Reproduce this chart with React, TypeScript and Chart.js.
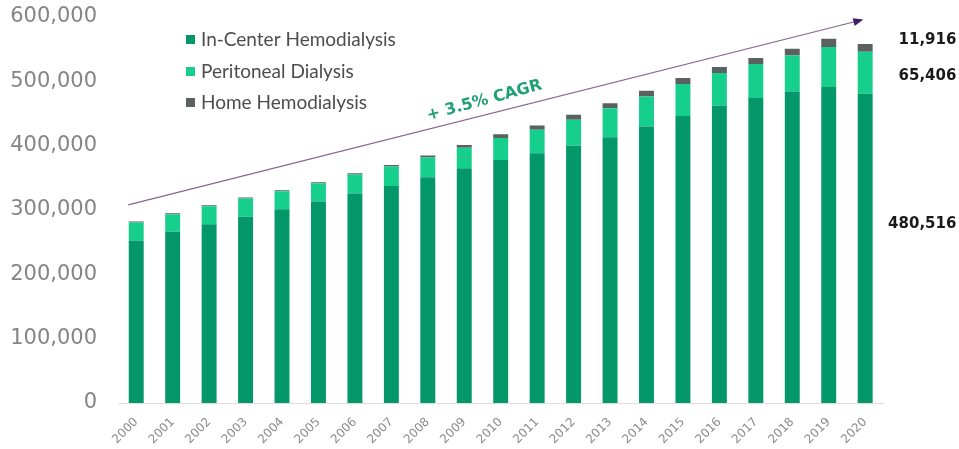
import React, { useEffect, useRef } from "react";
import { Chart, registerables } from "chart.js";

Chart.register(...registerables);

// ---- Data ----
const YEARS = [
  "2000", "2001", "2002", "2003", "2004", "2005", "2006", "2007", "2008", "2009", "2010",
  "2011", "2012", "2013", "2014", "2015", "2016", "2017", "2018", "2019", "2020",
];
const IN_CENTER = [
  252400, 266000, 278000, 289700, 301200, 313100, 325500, 337500, 351000, 365000, 377900,
  388300, 399700, 413200, 429700, 446300, 461900, 473900, 484100, 491000, 480516,
];
const PERITONEAL = [
  28100, 27500, 28000, 28100, 28100, 28300, 29500, 30100, 30600, 31700, 34000,
  36300, 40400, 45100, 46700, 49400, 51200, 52900, 56000, 62200, 65406,
];
const HOME = [
  1500, 1500, 1500, 1500, 1500, 1800, 2200, 2500, 3000, 4500, 6000,
  6700, 7800, 7800, 8800, 9300, 9000, 9300, 10400, 12900, 11916,
];
const SERIES_LABELS = ["In-Center Hemodialysis", "Peritoneal Dialysis", "Home Hemodialysis"];
const Y_MIN = 0;
const Y_MAX = 600000;
const Y_STEP = 100000;
const CAGR_LABEL = "+ 3.5% CAGR";
// trend arrow in data units: [category index, value]
const ARROW_FROM = [-0.22, 308000];
const ARROW_TO = [19.95, 596000];

const COLORS = ["#04976a", "#17cf8d", "#5b6060"];

const fmt = (v: number) => v.toLocaleString("en-US");

const overlayPlugin = {
  id: "overlay",
  afterDatasetsDraw(chart: any) {
    const { ctx, chartArea, scales } = chart;
    const xs = scales.x;
    const ys = scales.y;
    ctx.save();

    // Legend (inside chart area, top-left)
    const lx = chartArea.left + 68;
    const rowY = [23, 55, 86];
    ctx.font = "19px Lato";
    ctx.textBaseline = "middle";
    ctx.textAlign = "left";
    chart.data.datasets.forEach((ds: any, i: number) => {
      const y = chartArea.top + rowY[i];
      ctx.fillStyle = ds.backgroundColor;
      ctx.fillRect(lx, y - 5, 9, 9);
      ctx.fillStyle = "#4d4d4d";
      ctx.fillText(ds.label, lx + 15, y);
    });

    // Trend arrow
    const x0 = xs.getPixelForValue(ARROW_FROM[0]);
    const y0 = ys.getPixelForValue(ARROW_FROM[1]);
    const x1 = xs.getPixelForValue(ARROW_TO[0]);
    const y1 = ys.getPixelForValue(ARROW_TO[1]);
    const ang = Math.atan2(y1 - y0, x1 - x0);
    const headLen = 10;
    ctx.strokeStyle = "#86638f";
    ctx.lineWidth = 1.2;
    ctx.beginPath();
    ctx.moveTo(x0, y0);
    ctx.lineTo(x1 - Math.cos(ang) * headLen * 0.8, y1 - Math.sin(ang) * headLen * 0.8);
    ctx.stroke();
    ctx.fillStyle = "#3e1f6a";
    ctx.beginPath();
    ctx.moveTo(x1, y1);
    ctx.lineTo(
      x1 - Math.cos(ang) * headLen + Math.sin(ang) * 4,
      y1 - Math.sin(ang) * headLen - Math.cos(ang) * 4
    );
    ctx.lineTo(
      x1 - Math.cos(ang) * headLen - Math.sin(ang) * 4,
      y1 - Math.sin(ang) * headLen + Math.cos(ang) * 4
    );
    ctx.closePath();
    ctx.fill();

    // CAGR label along arrow
    const t = 0.489;
    const cx = x0 + (x1 - x0) * t;
    const cy = y0 + (y1 - y0) * t;
    ctx.save();
    ctx.translate(cx + Math.sin(ang) * 14, cy - Math.cos(ang) * 14);
    ctx.rotate(ang - 0.02);
    ctx.font = "bold 16px 'DejaVu Sans'";
    ctx.fillStyle = "#1f9f74";
    ctx.textAlign = "center";
    ctx.textBaseline = "middle";
    ctx.fillText(CAGR_LABEL, 0, 0);
    ctx.restore();

    // Right-side value labels for last year
    const last = YEARS.length - 1;
    const ic = IN_CENTER[last];
    const pd = PERITONEAL[last];
    const hm = HOME[last];
    const rx = chartArea.right + 73;
    ctx.font = "bold 15px 'DejaVu Sans'";
    ctx.fillStyle = "#1a1a1a";
    ctx.textAlign = "right";
    ctx.textBaseline = "middle";
    ctx.fillText(fmt(hm), rx, ys.getPixelForValue(ic + pd + hm) - 4);
    ctx.fillText(fmt(pd), rx, ys.getPixelForValue(ic + pd / 2) + 3);
    ctx.fillText(fmt(ic), rx, ys.getPixelForValue(ic / 2) - 24);

    ctx.restore();
  },
};

export default function App() {
  const ref = useRef<HTMLCanvasElement | null>(null);

  useEffect(() => {
    if (!ref.current) return;
    const series = [IN_CENTER, PERITONEAL, HOME];
    const chart = new Chart(ref.current, {
      type: "bar",
      data: {
        labels: YEARS,
        datasets: series.map((d, i) => ({
          label: SERIES_LABELS[i],
          data: d,
          backgroundColor: COLORS[i],
          borderWidth: 0,
          barPercentage: 0.41,
          categoryPercentage: 1,
        })),
      },
      options: {
        responsive: false,
        animation: false,
        devicePixelRatio: 1,
        layout: { padding: { top: 17, right: 75.6, bottom: 0, left: 0 } },
        plugins: {
          legend: { display: false },
          tooltip: { enabled: false },
        },
        scales: {
          x: {
            stacked: true,
            grid: { display: false, drawTicks: false },
            border: { display: true, color: "#dedede", width: 1 },
            ticks: {
              font: { family: "'DejaVu Sans'", size: 12 },
              color: "#8c8c8c",
              minRotation: 45,
              maxRotation: 45,
              autoSkip: false,
              padding: 12,
            },
            afterFit: (s: any) => {
              s.height = 46;
            },
          },
          y: {
            stacked: true,
            min: Y_MIN,
            max: Y_MAX,
            grid: { display: false, drawTicks: false },
            border: { display: false },
            ticks: {
              stepSize: Y_STEP,
              font: { family: "'DejaVu Sans'", size: 21 },
              color: "#858585",
              padding: 21,
              callback: (v: any) => fmt(Number(v)),
            },
            afterFit: (s: any) => {
              s.width = 118;
              s.paddingTop = 0;
              s.paddingBottom = 0;
            },
          },
        },
      },
      plugins: [overlayPlugin],
    });
    return () => chart.destroy();
  }, []);

  return (
    <div style={{ position: "fixed", left: 0, top: 0, width: 959, height: 449, background: "#fff" }}>
      <canvas ref={ref} width={959} height={449} />
    </div>
  );
}
